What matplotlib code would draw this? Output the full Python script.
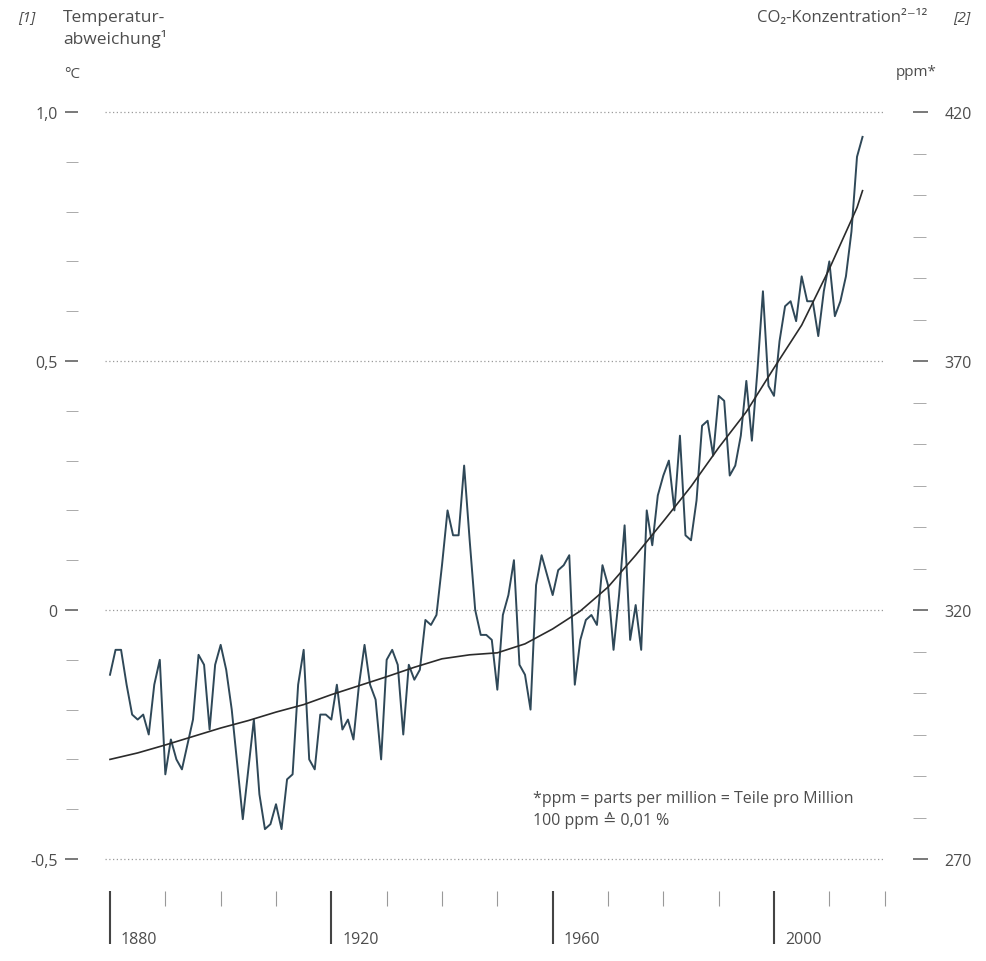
import matplotlib
matplotlib.use("Agg")
import matplotlib.pyplot as plt
from matplotlib.ticker import MultipleLocator, FixedLocator
import numpy as np

# ---------------- data ----------------
temp_years = list(range(1880, 2017))
temp_anomaly = [
    -0.13, -0.08, -0.08, -0.15, -0.21, -0.22, -0.21, -0.25, -0.15, -0.10,   # 1880s
    -0.33, -0.26, -0.30, -0.32, -0.27, -0.22, -0.09, -0.11, -0.24, -0.11,   # 1890s
    -0.07, -0.12, -0.20, -0.31, -0.42, -0.32, -0.22, -0.37, -0.44, -0.43,   # 1900s
    -0.39, -0.44, -0.34, -0.33, -0.15, -0.08, -0.30, -0.32, -0.21, -0.21,   # 1910s
    -0.22, -0.15, -0.24, -0.22, -0.26, -0.15, -0.07, -0.15, -0.18, -0.30,   # 1920s
    -0.10, -0.08, -0.11, -0.25, -0.11, -0.14, -0.12, -0.02, -0.03, -0.01,   # 1930s
    0.09, 0.20, 0.15, 0.15, 0.29, 0.14, 0.00, -0.05, -0.05, -0.06,          # 1940s
    -0.16, -0.01, 0.03, 0.10, -0.11, -0.13, -0.20, 0.05, 0.11, 0.07,        # 1950s
    0.03, 0.08, 0.09, 0.11, -0.15, -0.06, -0.02, -0.01, -0.03, 0.09,        # 1960s
    0.05, -0.08, 0.03, 0.17, -0.06, 0.01, -0.08, 0.20, 0.13, 0.23,          # 1970s
    0.27, 0.30, 0.20, 0.35, 0.15, 0.14, 0.22, 0.37, 0.38, 0.31,             # 1980s
    0.43, 0.42, 0.27, 0.29, 0.35, 0.46, 0.34, 0.48, 0.64, 0.45,             # 1990s
    0.43, 0.54, 0.61, 0.62, 0.58, 0.67, 0.62, 0.62, 0.55, 0.64,             # 2000s
    0.70, 0.59, 0.62, 0.67, 0.76, 0.91, 0.95,                               # 2010s
]

co2_years = list(range(1880, 2016, 5)) + [2016]
co2_ppm = [290.0, 291.3, 292.9, 294.6, 296.3, 297.8, 299.5, 301.0, 303.0, 304.8,
           306.6, 308.5, 310.2, 311.0, 311.4, 313.2, 316.2, 319.8, 324.6, 331.0,
           337.8, 344.8, 352.6, 359.8, 368.6, 377.2, 388.5, 400.8, 404.2]

temp_ticks = [-0.5, 0.0, 0.5, 1.0]
temp_ticklabels = ["-0,5", "0", "0,5", "1,0"]
co2_ticks = [270, 320, 370, 420]
co2_ticklabels = ["270", "320", "370", "420"]
year_major = [1880, 1920, 1960, 2000]
year_minor = [1890, 1900, 1910, 1930, 1940, 1950, 1970, 1980, 1990, 2010, 2020]

# ---------------- style ----------------
FONT = ["Open Sans", "DejaVu Sans"]
plt.rcParams["font.family"] = FONT
TXT = "#4d4d4d"
W, H = 987, 962

fig = plt.figure(figsize=(W / 100, H / 100), dpi=100)
fig.patch.set_facecolor("white")

def fx(px):
    return px / W

def fy(py):
    return 1 - py / H

ax_l, ax_r, ax_t, ax_b = 105, 885, 113, 860
ax = fig.add_axes([fx(ax_l), fy(ax_b), fx(ax_r - ax_l), (ax_b - ax_t) / H])
ax2 = ax.twinx()

px_per_year = (774 - 110) / 120.0
x0 = 1880 + (ax_l - 110) / px_per_year
x1 = 1880 + (ax_r - 110) / px_per_year
ax.set_xlim(x0, x1)
ax.set_ylim(-0.5, 1.0)
ax2.set_ylim(270, 420)

for a in (ax, ax2):
    for s in a.spines.values():
        s.set_visible(False)
    a.patch.set_visible(False)

# dotted grid lines
for t in temp_ticks:
    ax.axhline(t, color="#9a9a9a", lw=0.9, ls=(0, (1, 2)), clip_on=False, zorder=1)

# lines
ax2.plot(co2_years, co2_ppm, color="#2b2b2b", lw=1.2, zorder=3)
ax.plot(temp_years, temp_anomaly, color="#2f4858", lw=1.4, zorder=4)

# left axis ticks
ax.spines["left"].set_position(("outward", 27 * 0.72))
ax.yaxis.set_major_locator(FixedLocator(temp_ticks))
ax.set_yticklabels(temp_ticklabels)
ax.yaxis.set_minor_locator(MultipleLocator(0.1))
ax.tick_params(axis="y", which="major", direction="out", length=9.5, width=1.1,
               color="#555555", pad=5, labelsize=11.5, labelcolor=TXT)
ax.tick_params(axis="y", which="minor", direction="out", length=8.5, width=0.7,
               color="#aaaaaa")

# right axis ticks
ax2.spines["right"].set_position(("outward", 28 * 0.72))
ax2.yaxis.set_major_locator(FixedLocator(co2_ticks))
ax2.set_yticklabels(co2_ticklabels)
ax2.yaxis.set_minor_locator(FixedLocator(list(np.arange(270, 420.1, 50 / 6))))
ax2.tick_params(axis="y", which="major", direction="out", length=10.5, width=1.1,
                color="#555555", pad=12, labelsize=11.5, labelcolor=TXT)
ax2.tick_params(axis="y", which="minor", direction="out", length=9.5, width=0.7,
                color="#aaaaaa")

# bottom axis ticks
ax.spines["bottom"].set_position(("outward", 32 * 0.72))
ax.xaxis.set_major_locator(FixedLocator(year_major))
ax.xaxis.set_minor_locator(FixedLocator(year_minor))
ax.tick_params(axis="x", which="major", direction="out", length=53 * 0.72, width=1.5,
               color="#444444", labelbottom=False)
ax.tick_params(axis="x", which="minor", direction="out", length=15 * 0.72, width=0.8,
               color="#999999")
ax2.tick_params(axis="x", which="both", bottom=False, top=False, labelbottom=False)

# year labels to the right of the major ticks
ytxt = -(940 - ax_b) / (ax_b - ax_t)
for yr in year_major:
    ax.text(yr + 11 / px_per_year, ytxt, str(yr), transform=ax.get_xaxis_transform(),
            ha="left", va="center", fontsize=11.5, color=TXT)

# header texts
fig.text(fx(18), fy(18), "[1]", ha="left", va="center", fontsize=11, style="italic", color=TXT)
fig.text(fx(63), fy(18), "Temperatur-", ha="left", va="center", fontsize=12.5, color=TXT)
fig.text(fx(63), fy(39), "abweichung\u00b9", ha="left", va="center", fontsize=12.5, color=TXT)
fig.text(fx(64), fy(75), "\u00b0C", ha="left", va="center", fontsize=11, color=TXT)

fig.text(fx(927), fy(18), "CO\u2082-Konzentration\u00b2\u207b\u00b9\u00b2", ha="right",
         va="center", fontsize=12, color=TXT)
fig.text(fx(953), fy(18), "[2]", ha="left", va="center", fontsize=11, style="italic", color=TXT)
fig.text(fx(937), fy(73), "ppm*", ha="right", va="center", fontsize=11, color=TXT)

# footnote
fig.text(fx(533), fy(799), "*ppm = parts per million = Teile pro Million", ha="left",
         va="center", fontsize=11.5, color=TXT)
fig.text(fx(533), fy(821), "100 ppm \u2259 0,01 %", ha="left", va="center",
         fontsize=11.5, color=TXT)

fig.savefig("out.png", dpi=100, facecolor="white")
